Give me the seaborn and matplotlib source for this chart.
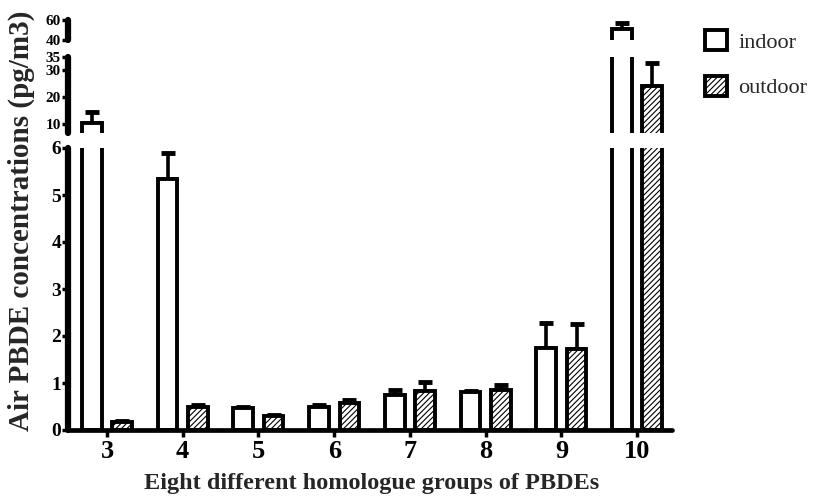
import matplotlib
matplotlib.use("Agg")
import matplotlib.pyplot as plt
import seaborn as sns
import pandas as pd
from matplotlib.patches import Patch

groups = ["3", "4", "5", "6", "7", "8", "9", "10"]
indoor = [10.3, 5.35, 0.47, 0.50, 0.75, 0.80, 1.75, 51.0]
indoor_err = [4.0, 0.55, 0.03, 0.03, 0.10, 0.02, 0.52, 6.0]
outdoor = [0.18, 0.50, 0.30, 0.58, 0.82, 0.85, 1.73, 24.2]
outdoor_err = [0.01, 0.04, 0.02, 0.06, 0.20, 0.10, 0.53, 8.6]
sites = ["indoor", "outdoor"]

bottom_ticks = [0, 1, 2, 3, 4, 5, 6]
middle_ticks = [10, 20, 30, 35]
top_ticks = [40, 60]

sns.set_theme(style="white")
plt.rcParams["font.family"] = ["Liberation Serif", "DejaVu Serif"]
plt.rcParams["hatch.color"] = "#222222"
plt.rcParams["hatch.linewidth"] = 0.8

df = pd.DataFrame({
    "group": groups * 2,
    "value": indoor + outdoor,
    "site": ["indoor"] * len(groups) + ["outdoor"] * len(groups),
})
errs = {"indoor": indoor_err, "outdoor": outdoor_err}

W, H = 814, 499
fig = plt.figure(figsize=(W / 100, H / 100), dpi=100)
left = 68 / W
width = (672 - 68) / W

def fy(px):
    return 1 - px / H

ax_b = fig.add_axes([left, fy(430), width, (430 - 148) / H])
ax_m = fig.add_axes([left, fy(133), width, (133 - 57) / H])
ax_t = fig.add_axes([left, fy(40), width, (40 - 20) / H])

specs = [
    (ax_b, (0, 6), bottom_ticks, 14),
    (ax_m, (6.6, 35), middle_ticks, 11),
    (ax_t, (40, 60), top_ticks, 11),
]

for ax, ylim, ticks, fs in specs:
    sns.barplot(data=df, x="group", y="value", hue="site", order=groups,
                hue_order=sites, palette=["white", "white"], edgecolor="black",
                linewidth=2.8, gap=0.35, width=0.8, errorbar=None,
                legend=False, ax=ax, zorder=2)
    for cont, site in zip(ax.containers, sites):
        xs, ys, es = [], [], []
        for p, e in zip(cont, errs[site]):
            if site == "outdoor":
                p.set_hatch("//////")
            h = p.get_height()
            if ylim[0] <= h <= ylim[1]:
                xs.append(p.get_x() + p.get_width() / 2)
                ys.append(h)
                es.append(e)
        if xs:
            ax.errorbar(xs, ys, yerr=[[0] * len(ys), es], fmt="none",
                        ecolor="black", elinewidth=2.6, capsize=5, capthick=3.5,
                        zorder=1)
    ax.set_xlim(-0.515, 7.46)
    ax.set_ylim(*ylim)
    ax.set_yticks(ticks)
    ax.set_yticklabels([str(t) for t in ticks], fontsize=fs, fontweight="bold")
    ax.tick_params(axis="y", direction="out", length=4, width=2.5, pad=1,
                   left=True, colors="black")
    ax.set_xlabel("")
    ax.set_ylabel("")
    for s in ["top", "right"]:
        ax.spines[s].set_visible(False)
    ax.spines["left"].set_linewidth(4.5)
    ax.spines["left"].set_color("black")
    ax.spines["left"].set_capstyle("round")
    ax.patch.set_alpha(0)
    if ax is not ax_b:
        ax.spines["bottom"].set_visible(False)
        ax.set_xticks([])
    else:
        ax.spines["bottom"].set_linewidth(3.4)
        ax.spines["bottom"].set_color("black")
        ax.spines["bottom"].set_capstyle("round")
        ax.set_xticks(range(len(groups)))
        ax.set_xticklabels(groups, fontsize=19, fontweight="bold")
        ax.tick_params(axis="x", direction="out", length=5, width=2.5,
                       bottom=True, pad=2, colors="black")

fig.text(21 / W, fy(221), "Air PBDE concentrations (pg/m3)", rotation=90,
         ha="center", va="center", fontsize=21, fontweight="bold")
fig.text(372 / W, fy(484), "Eight different homologue groups of PBDEs",
         ha="center", va="center", fontsize=17.5, fontweight="bold")

handles = [Patch(facecolor="white", edgecolor="black", linewidth=2.8, label="indoor"),
           Patch(facecolor="white", edgecolor="black", linewidth=2.8,
                 hatch="//////", label="outdoor")]
fig.legend(handles=handles, loc="upper left", bbox_to_anchor=(705 / W, fy(30)),
           frameon=False, fontsize=16, handlelength=1.0, handleheight=1.0,
           handletextpad=0.5, labelspacing=1.05, borderpad=0, borderaxespad=0)

fig.savefig("out.png", dpi=100)
